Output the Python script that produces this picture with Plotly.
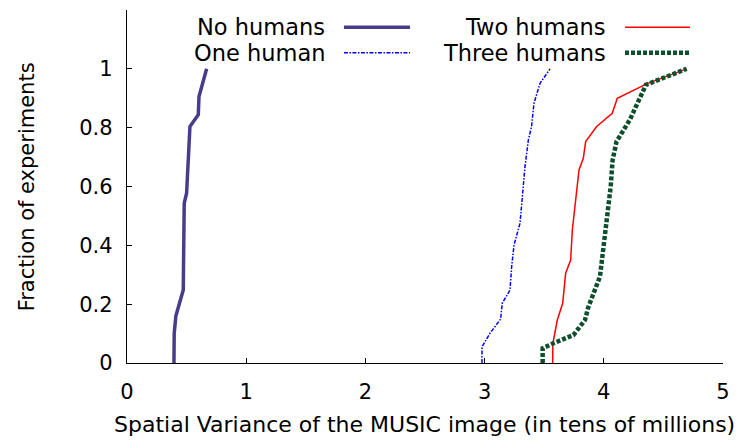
import plotly.graph_objects as go

# ---- data ----
no_humans_x = [0.394, 0.396, 0.41, 0.472, 0.48, 0.50, 0.528, 0.598, 0.604, 0.668]
no_humans_y = [0.0, 0.10, 0.16, 0.248, 0.543, 0.577, 0.804, 0.844, 0.906, 1.0]

one_human_x = [2.978, 2.978, 3.045, 3.134, 3.148, 3.213, 3.227, 3.247, 3.297, 3.316,
               3.339, 3.367, 3.394, 3.414, 3.465, 3.549]
one_human_y = [0.0, 0.055, 0.101, 0.149, 0.203, 0.248, 0.328, 0.401, 0.475, 0.566,
               0.668, 0.758, 0.804, 0.883, 0.951, 1.0]

two_humans_x = [3.571, 3.573, 3.61, 3.655, 3.68, 3.722, 3.736, 3.758, 3.792, 3.828,
                3.848, 3.94, 4.071, 4.113, 4.359, 4.695]
two_humans_y = [0.0, 0.067, 0.146, 0.203, 0.305, 0.35, 0.452, 0.532, 0.656, 0.696,
                0.753, 0.804, 0.849, 0.9, 0.949, 1.0]

three_humans_x = [3.487, 3.487, 3.577, 3.745, 3.842, 3.87, 3.968, 4.01, 4.038, 4.058,
                  4.074, 4.107, 4.219, 4.30, 4.354, 4.695]
three_humans_y = [0.0, 0.05, 0.067, 0.095, 0.146, 0.19, 0.294, 0.43, 0.509, 0.6,
                  0.69, 0.753, 0.827, 0.895, 0.946, 1.0]

series_names = ["No humans", "One human", "Two humans", "Three humans"]

x_ticks = [0, 1, 2, 3, 4, 5]
y_ticks = [0, 0.2, 0.4, 0.6, 0.8, 1]
y_tick_labels = ["0", "0.2", "0.4", "0.6", "0.8", "1"]

x_title = "Spatial Variance of the MUSIC image (in tens of millions)"
y_title = "Fraction of experiments"

# ---- styles ----
FONT = "DejaVu Sans, Liberation Sans, Arial, sans-serif"
styles = [
    dict(color="#483D8B", width=3.5, dash="solid"),
    dict(color="#0000FF", width=1.5, dash="4px,1.5px,1.5px,1.5px"),
    dict(color="#FF0000", width=1.5, dash="solid"),
    dict(color="#0B4F2C", width=4.5, dash="4px,2px"),
]
xs = [no_humans_x, one_human_x, two_humans_x, three_humans_x]
ys = [no_humans_y, one_human_y, two_humans_y, three_humans_y]

fig = go.Figure()
for name, x, y, st in zip(series_names, xs, ys, styles):
    fig.add_trace(go.Scatter(x=x, y=y, mode="lines", name=name, line=st,
                             showlegend=False))

# ---- manual legend (text left of the line sample) ----
legend_pos = [
    (0.3356, 0.364, 0.4748, 0.951),
    (0.3356, 0.364, 0.4748, 0.879),
    (0.807, 0.8356, 0.9446, 0.951),
    (0.807, 0.8356, 0.9446, 0.879),
]
for name, st, (tx, x0, x1, yy) in zip(series_names, styles, legend_pos):
    fig.add_annotation(x=tx, y=yy, xref="paper", yref="paper", text=name,
                       showarrow=False, xanchor="right", yanchor="middle",
                       font=dict(size=22.5, color="black", family=FONT))
    fig.add_shape(type="line", xref="paper", yref="paper", x0=x0, x1=x1, y0=yy, y1=yy,
                  line=st)

# axis titles
fig.add_annotation(x=0.499, y=-0.173, xref="paper", yref="paper", text=x_title,
                   showarrow=False, xanchor="center", yanchor="middle",
                   font=dict(size=22, color="black", family=FONT))
fig.add_annotation(x=-0.168, y=0.5, xref="paper", yref="paper", text=y_title,
                   showarrow=False, textangle=-90, xanchor="center", yanchor="middle",
                   font=dict(size=21, color="black", family=FONT))

# the page body adds an 8px offset, so the figure is 8px smaller and margins shifted
fig.update_layout(
    width=740, height=434,
    margin=dict(l=119, r=25, t=2, b=79),
    paper_bgcolor="white", plot_bgcolor="white",
    font=dict(family=FONT, size=21, color="black"),
    showlegend=False,
)
fig.update_xaxes(range=[0, 5], tickvals=x_ticks, ticks="inside", ticklen=5,
                 tickcolor="black", showline=True, linecolor="black", linewidth=1.3,
                 showgrid=False, zeroline=False, ticklabelstandoff=10,
                 tickfont=dict(size=21, family=FONT))
fig.update_yaxes(range=[0, 1.2], tickvals=y_ticks, ticktext=y_tick_labels,
                 ticks="inside", ticklen=5, tickcolor="black", showline=True,
                 linecolor="black", linewidth=1.3, showgrid=False, zeroline=False,
                 ticklabelstandoff=9, tickfont=dict(size=21, family=FONT))

fig.write_html("out.html")
